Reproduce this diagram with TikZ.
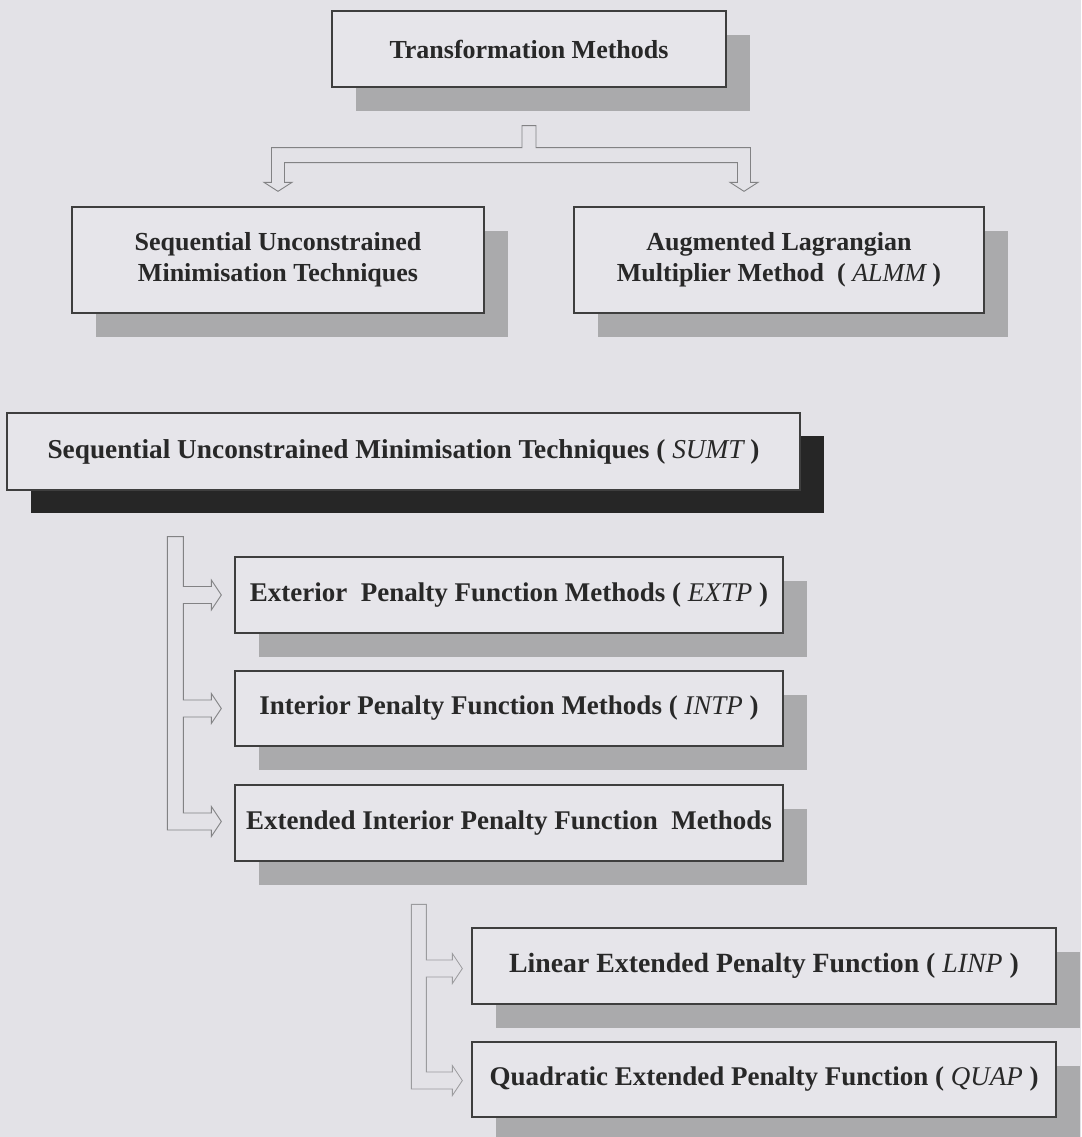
\documentclass[tikz,border=0pt]{standalone}
\usepackage{fontspec}
\setmainfont{Liberation Serif}
\usetikzlibrary{calc,shadows}

\definecolor{paper}{RGB}{227,226,231}
\definecolor{boxfill}{RGB}{230,229,234}
\definecolor{boxline}{RGB}{62,62,62}
\definecolor{inkc}{RGB}{40,40,40}
\definecolor{dotshade}{RGB}{170,170,172}
\definecolor{darkshade}{RGB}{38,38,38}
\definecolor{connc}{RGB}{130,130,132}
\definecolor{connlight}{RGB}{155,155,158}

\begin{document}
\begin{tikzpicture}[x=1pt,y=-1pt,
  box/.style={draw=boxline,line width=1.3pt,fill=boxfill,text=inkc,
    align=center,inner sep=0pt,
    font=\fontsize{26}{31}\selectfont\bfseries},
  onerow/.style={font=\fontsize{27}{31}\selectfont\bfseries},
  softshadow/.style={drop shadow={shadow xshift=24pt,shadow yshift=-24pt,
    fill=dotshade,opacity=1}},
  hardshadow/.style={drop shadow={shadow xshift=24pt,shadow yshift=-23pt,
    fill=darkshade,opacity=1}},
  conn/.style={draw=connc,line width=0.9pt,line join=miter},
  connsoft/.style={draw=connlight,line width=0.8pt,line join=miter},
  hollowtip/.style={insert path={-- ($(#1)+(-10,-8.5)$) -- ($(#1)+(-10,-15)$)
    -- (#1) -- ($(#1)+(-10,15)$) -- ($(#1)+(-10,8.5)$)}}
]
\fill[paper] (0,0) rectangle (1081,1137);
\useasboundingbox (0,0) rectangle (1081,1137);

% ---- upper tree ----
\node[box,softshadow,minimum width=394pt,minimum height=76pt] (tm) at (529,49)
  {Transformation Methods};
\node[box,softshadow,minimum width=412pt,minimum height=106pt] (sut) at (278,260)
  {Sequential Unconstrained\\Minimisation Techniques};
\node[box,softshadow,minimum width=410pt,minimum height=106pt] (alm) at (779,260)
  {Augmented Lagrangian\\Multiplier Method\ \ ( {\mdseries\itshape ALMM} )};

% hollow branching arrow below the root
\coordinate (stem) at ($(tm.south)+(0,38)$);
\coordinate (la) at ($(sut.north)+(0,-15)$);
\coordinate (ra) at ($(alm.north)+(-35,-15)$);
\coordinate (ll) at (la|-stem);
\coordinate (rl) at (ra|-stem);
\draw[conn,fill=paper] ($(stem)+(-7,22)$) -- ($(stem)+(-7,0)$) -- ($(stem)+(7,0)$)
  -- ($(stem)+(7,22)$) -- ($(rl)+(6.5,22)$) -- ($(ra)+(6.5,-9)$)
  -- ($(ra)+(14,-9)$) -- (ra) -- ($(ra)+(-14,-9)$) -- ($(ra)+(-6.5,-9)$)
  -- ($(rl)+(-6.5,37)$) -- ($(ll)+(6.5,37)$) -- ($(la)+(6.5,-9)$)
  -- ($(la)+(14,-9)$) -- (la) -- ($(la)+(-14,-9)$) -- ($(la)+(-6.5,-9)$)
  -- ($(ll)+(-6.5,22)$) -- cycle;

% ---- SUMT family ----
\node[box,hardshadow,font=\fontsize{27.3}{31}\selectfont\bfseries,
  minimum width=793pt,minimum height=77pt] (sumt) at (403.5,451.5)
  {Sequential Unconstrained Minimisation Techniques ( {\mdseries\itshape SUMT} )};
\node[box,onerow,softshadow,minimum width=548pt,minimum height=76pt] (extp) at (509,595)
  {Exterior\ \ Penalty Function Methods ( {\mdseries\itshape EXTP} )};
\node[box,onerow,softshadow,minimum width=548pt,minimum height=75pt] (intp) at (509,708.5)
  {Interior Penalty Function Methods ( {\mdseries\itshape INTP} )};
\node[box,onerow,softshadow,minimum width=548pt,minimum height=76pt] (eipf) at (509,823)
  {Extended Interior Penalty Function\ \ Methods};

\coordinate (t1) at ($(extp.west)+(-13,0)$);
\coordinate (t2) at ($(intp.west)+(-13,0)$);
\coordinate (t3) at ($(eipf.west)+(-13,-1.5)$);
\coordinate (b1) at (t1|-sumt.south);
\draw[conn] ($(b1)+(-54,46)$) -- ($(b1)+(-38,46)$) -- ($(t1)+(-38,-8.5)$) [hollowtip=t1]
  -- ($(t1)+(-38,8.5)$) -- ($(t2)+(-38,-8.5)$) [hollowtip=t2]
  -- ($(t2)+(-38,8.5)$) -- ($(t3)+(-38,-8.5)$) [hollowtip=t3]
  -- ($(t3)+(-54,8.5)$) -- cycle;

% ---- extended penalty variants ----
\node[box,softshadow,font=\fontsize{27.8}{31}\selectfont\bfseries,
  minimum width=584pt,minimum height=76pt] (linp) at (764,966)
  {Linear Extended Penalty Function ( {\mdseries\itshape LINP} )};
\node[box,onerow,softshadow,minimum width=584pt,minimum height=75pt] (quap) at (764,1079.5)
  {Quadratic Extended Penalty Function ( {\mdseries\itshape QUAP} )};

\coordinate (u1) at ($(linp.west)+(-9,2.5)$);
\coordinate (u2) at ($(quap.west)+(-9,1)$);
\coordinate (b2) at (u1|-linp.north);
\draw[connsoft] ($(b2)+(-51,-23)$) -- ($(b2)+(-36,-23)$) -- ($(u1)+(-36,-8.5)$) [hollowtip=u1]
  -- ($(u1)+(-36,8.5)$) -- ($(u2)+(-36,-8.5)$) [hollowtip=u2]
  -- ($(u2)+(-51,8.5)$) -- cycle;
\end{tikzpicture}
\end{document}
